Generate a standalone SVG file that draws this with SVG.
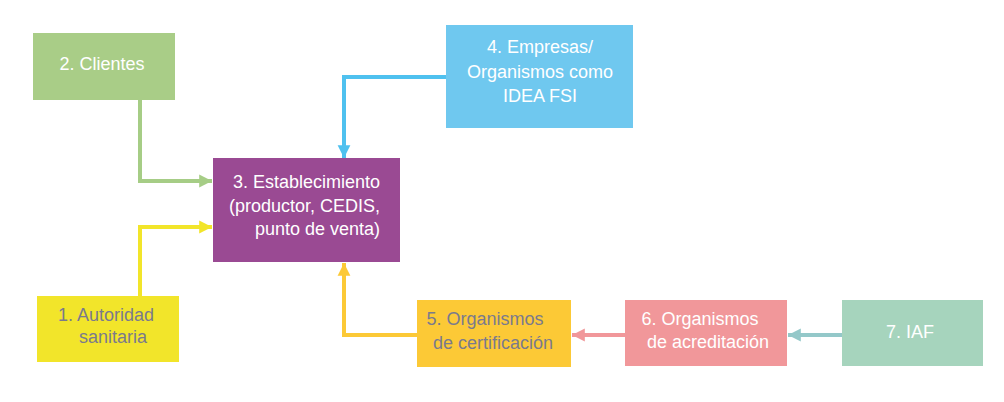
<svg xmlns="http://www.w3.org/2000/svg" width="1004" height="402" viewBox="0 0 1004 402">
<style>
text { font-family: "Liberation Sans", Arial, sans-serif; font-size: 18px; }
.w { fill: #ffffff; }
.g { fill: #7a7a8d; }
.c { fill: none; stroke-width: 4; }
</style>
<defs>
<marker id="aG" viewBox="0 0 10 10" refX="10" refY="5" markerWidth="3.2" markerHeight="3.6" orient="auto" markerUnits="strokeWidth"><path d="M0,0 L10,5 L0,10 Z" fill="#a6cd86"/></marker>
<marker id="aY" viewBox="0 0 10 10" refX="10" refY="5" markerWidth="3.2" markerHeight="3.6" orient="auto" markerUnits="strokeWidth"><path d="M0,0 L10,5 L0,10 Z" fill="#f2e52a"/></marker>
<marker id="aB" viewBox="0 0 10 10" refX="10" refY="5" markerWidth="3.2" markerHeight="3.6" orient="auto" markerUnits="strokeWidth"><path d="M0,0 L10,5 L0,10 Z" fill="#4fc1ef"/></marker>
<marker id="aO" viewBox="0 0 10 10" refX="10" refY="5" markerWidth="3.2" markerHeight="3.6" orient="auto" markerUnits="strokeWidth"><path d="M0,0 L10,5 L0,10 Z" fill="#fcc936"/></marker>
<marker id="aP" viewBox="0 0 10 10" refX="10" refY="5" markerWidth="3.2" markerHeight="3.6" orient="auto" markerUnits="strokeWidth"><path d="M0,0 L10,5 L0,10 Z" fill="#f1979a"/></marker>
<marker id="aT" viewBox="0 0 10 10" refX="10" refY="5" markerWidth="3.2" markerHeight="3.6" orient="auto" markerUnits="strokeWidth"><path d="M0,0 L10,5 L0,10 Z" fill="#94c8c9"/></marker>
</defs>
<g id="connectors">
<path class="c" stroke="#a6cd86" d="M140,100 V181 H212" marker-end="url(#aG)"/>
<path class="c" stroke="#f2e52a" d="M140,296 V227 H212" marker-end="url(#aY)"/>
<path class="c" stroke="#4fc1ef" d="M446,77 H344 V158" marker-end="url(#aB)"/>
<path class="c" stroke="#fcc936" d="M417,335 H344 V263" marker-end="url(#aO)"/>
<path class="c" stroke="#f1979a" d="M625,335 H572" marker-end="url(#aP)"/>
<path class="c" stroke="#94c8c9" d="M842,335 H788" marker-end="url(#aT)"/>
</g>
<g id="n2">
<rect x="33" y="33" width="142" height="67" fill="#a9cd87"/>
<text class="w" x="102" y="70" text-anchor="middle">2. Clientes</text>
</g>
<g id="n3">
<rect x="213" y="158" width="187" height="104" fill="#9a4a93"/>
<text class="w" x="380" y="188" text-anchor="end">3. Establecimiento</text>
<text class="w" x="380" y="212" text-anchor="end">(productor, CEDIS,</text>
<text class="w" x="380" y="235" text-anchor="end">punto de venta)</text>
</g>
<g id="n4">
<rect x="446" y="25" width="187" height="103" fill="#6fc8ef"/>
<text class="w" x="540" y="53" text-anchor="middle">4. Empresas/</text>
<text class="w" x="540" y="78" text-anchor="middle">Organismos como</text>
<text class="w" x="540" y="102" text-anchor="middle">IDEA FSI</text>
</g>
<g id="n1">
<rect x="37" y="296" width="142" height="66" fill="#f2e52a"/>
<text class="g" x="106" y="321" text-anchor="middle">1. Autoridad</text>
<text class="g" x="113" y="343" text-anchor="middle">sanitaria</text>
</g>
<g id="n5">
<rect x="417" y="300" width="154" height="67" fill="#fcc936"/>
<text class="g" x="485" y="325" text-anchor="middle">5. Organismos</text>
<text class="g" x="493" y="349" text-anchor="middle">de certificación</text>
</g>
<g id="n6">
<rect x="625" y="300" width="162" height="66" fill="#f1979a"/>
<text class="w" x="700" y="325" text-anchor="middle">6. Organismos</text>
<text class="w" x="708" y="348" text-anchor="middle">de acreditación</text>
</g>
<g id="n7">
<rect x="842" y="300" width="141" height="66" fill="#a6d4bd"/>
<text class="w" x="910" y="338" text-anchor="middle">7. IAF</text>
</g>
</svg>
